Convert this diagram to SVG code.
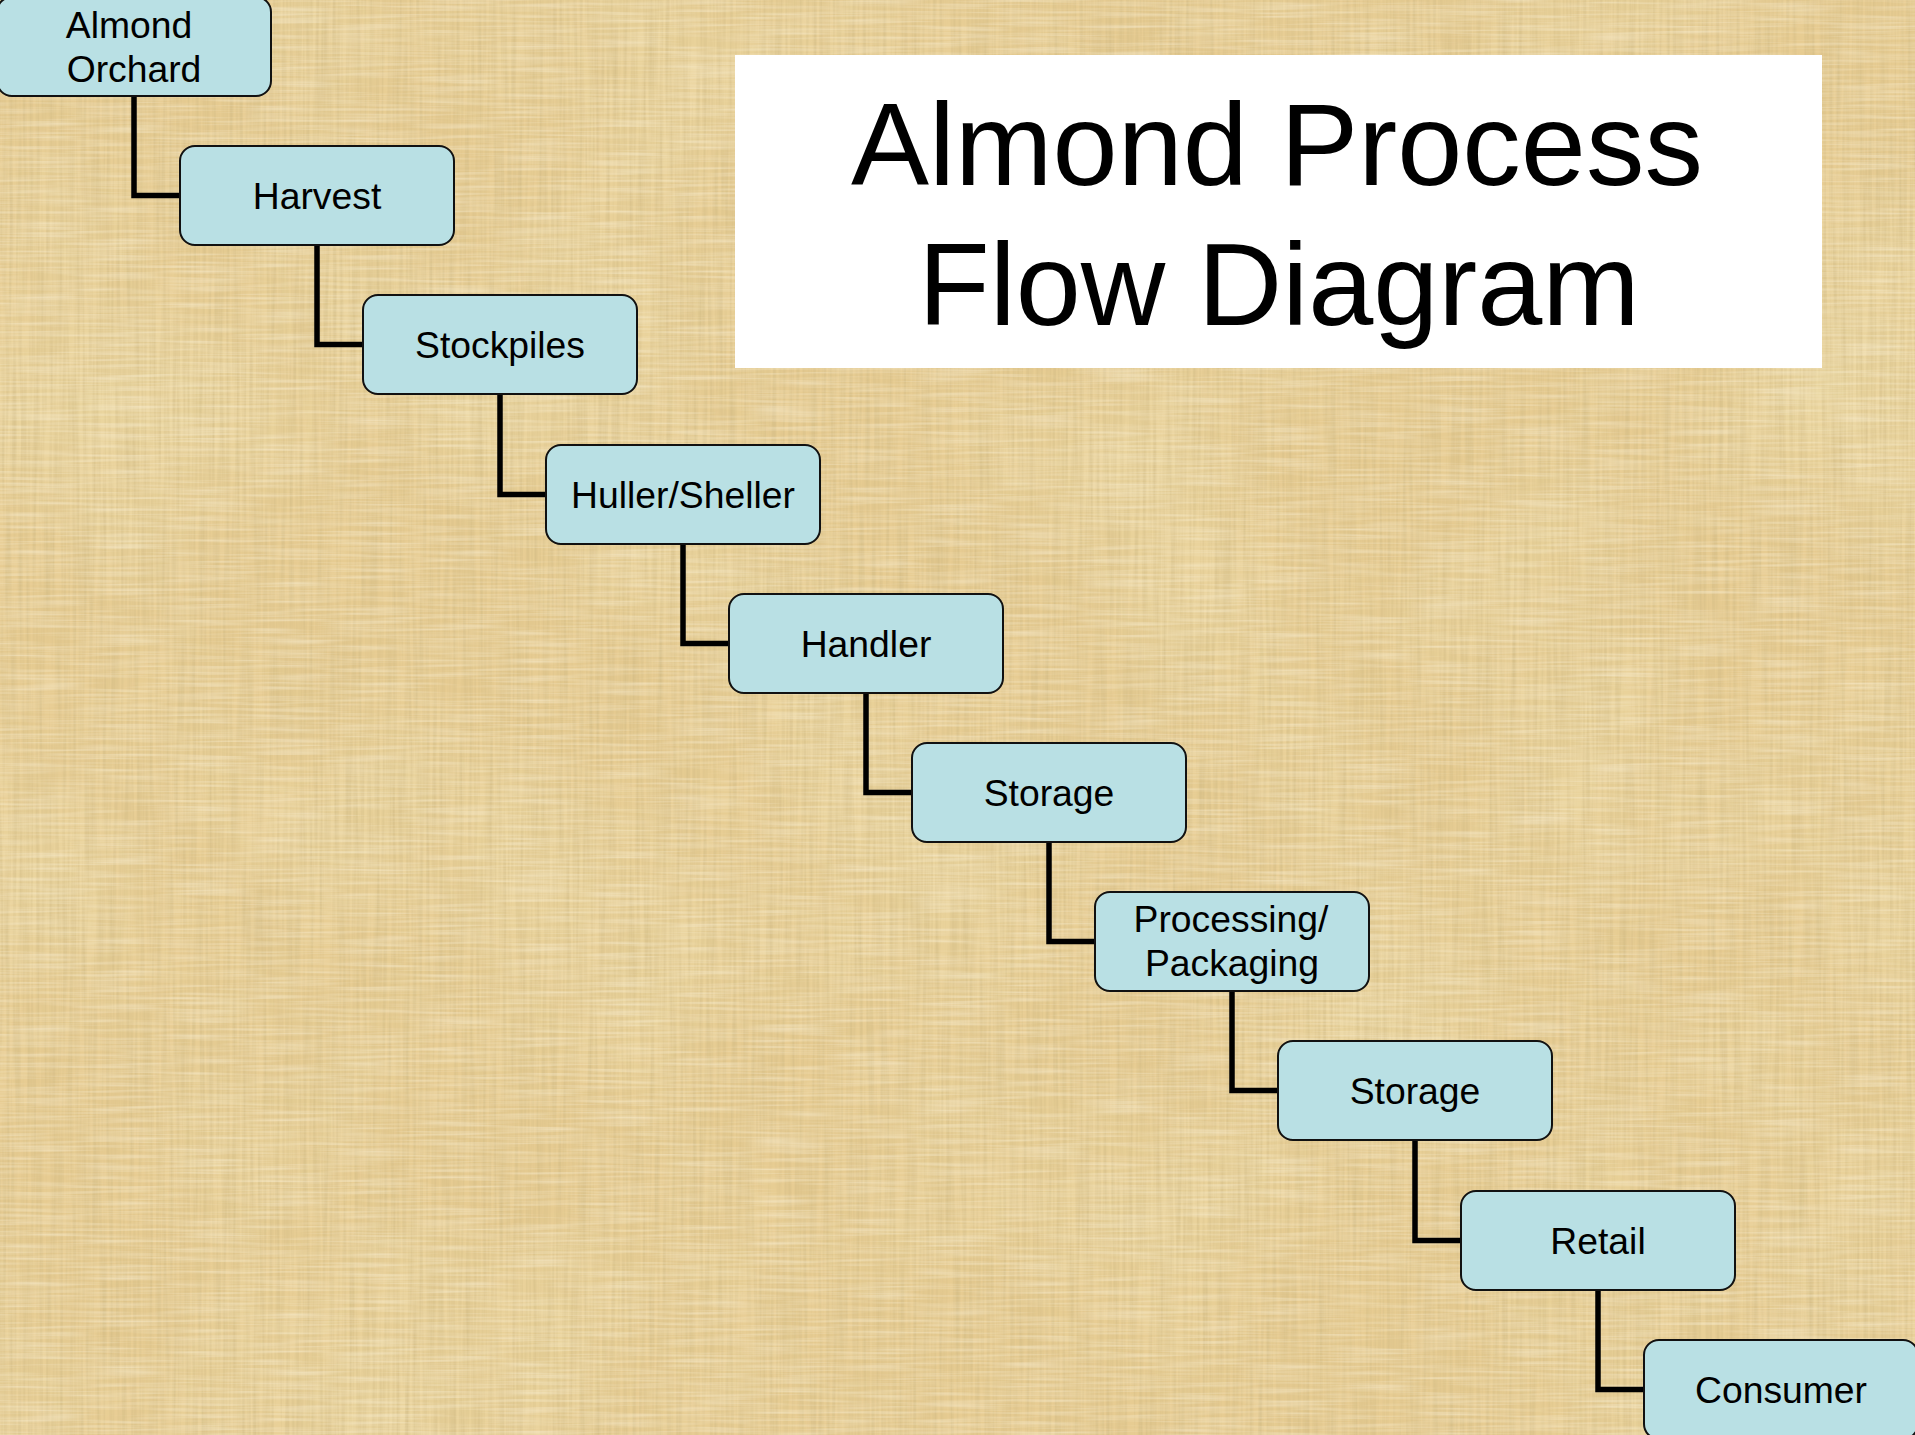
<svg xmlns="http://www.w3.org/2000/svg" width="1915" height="1435" viewBox="0 0 1915 1435">
<style>
.node rect{fill:#b9e0e4;stroke:#111;stroke-width:2}
.node text{font-family:"Liberation Sans",Arial,sans-serif;font-size:37.3px;fill:#000;text-anchor:middle}
.conn path{fill:none;stroke:#000;stroke-width:5.5;stroke-linejoin:miter}
.title{font-family:"Liberation Sans",Arial,sans-serif;font-size:117px;fill:#000;text-anchor:middle}
</style>
<defs>
<filter id="texV" x="0" y="0" width="100%" height="100%">
<feTurbulence type="fractalNoise" baseFrequency="0.3 0.008" numOctaves="2" seed="4" result="n"/>
<feColorMatrix in="n" type="matrix" values="0 0 0 0 0.62  0 0 0 0 0.48  0 0 0 0 0.22  1.1 0 0 0 -0.35"/>
</filter>
<filter id="texH" x="0" y="0" width="100%" height="100%">
<feTurbulence type="fractalNoise" baseFrequency="0.012 0.35" numOctaves="2" seed="9" result="n"/>
<feColorMatrix in="n" type="matrix" values="0 0 0 0 1  0 0 0 0 0.95  0 0 0 0 0.8  0.8 0 0 0 -0.3"/>
</filter>
<filter id="blot" x="0" y="0" width="100%" height="100%">
<feTurbulence type="fractalNoise" baseFrequency="0.004 0.004" numOctaves="2" seed="2" result="n"/>
<feColorMatrix in="n" type="matrix" values="0 0 0 0 0.85  0 0 0 0 0.72  0 0 0 0 0.4  1.2 0 0 0 -0.45"/>
</filter>
</defs>
<g id="background">
<rect x="0" y="0" width="1915" height="1435" fill="#e7cc92"/>
<rect x="0" y="0" width="1915" height="1435" filter="url(#blot)"/>
<rect x="0" y="0" width="1915" height="1435" filter="url(#texV)"/>
<rect x="0" y="0" width="1915" height="1435" filter="url(#texH)"/>
</g>
<g id="title">
<rect x="735" y="55" width="1087" height="313" fill="#ffffff"/>
<text class="title" x="1277" y="185">Almond Process</text>
<text class="title" x="1279" y="325">Flow Diagram</text>
</g>
<g id="connectors" class="conn">
<path d="M134 96 V195.5 H180"/>
<path d="M317 245 V344.5 H363"/>
<path d="M500 394 V494.5 H546"/>
<path d="M683 544 V643.5 H729"/>
<path d="M866 693 V792.5 H912"/>
<path d="M1049 842 V941.5 H1095"/>
<path d="M1232 991 V1090.5 H1278"/>
<path d="M1415 1140 V1240.5 H1461"/>
<path d="M1598 1290 V1389.5 H1644"/>
</g>
<g id="node-almond-orchard" class="node">
<rect x="-3" y="-3" width="274" height="99" rx="15"/>
<text x="129" y="38">Almond</text>
<text x="134" y="82">Orchard</text>
</g>
<g id="node-harvest" class="node">
<rect x="180" y="146" width="274" height="99" rx="15"/>
<text x="317" y="209">Harvest</text>
</g>
<g id="node-stockpiles" class="node">
<rect x="363" y="295" width="274" height="99" rx="15"/>
<text x="500" y="358">Stockpiles</text>
</g>
<g id="node-huller-sheller" class="node">
<rect x="546" y="445" width="274" height="99" rx="15"/>
<text x="683" y="508">Huller/Sheller</text>
</g>
<g id="node-handler" class="node">
<rect x="729" y="594" width="274" height="99" rx="15"/>
<text x="866" y="657">Handler</text>
</g>
<g id="node-storage-1" class="node">
<rect x="912" y="743" width="274" height="99" rx="15"/>
<text x="1049" y="806">Storage</text>
</g>
<g id="node-processing-packaging" class="node">
<rect x="1095" y="892" width="274" height="99" rx="15"/>
<text x="1231" y="932">Processing/</text>
<text x="1232" y="976">Packaging</text>
</g>
<g id="node-storage-2" class="node">
<rect x="1278" y="1041" width="274" height="99" rx="15"/>
<text x="1415" y="1104">Storage</text>
</g>
<g id="node-retail" class="node">
<rect x="1461" y="1191" width="274" height="99" rx="15"/>
<text x="1598" y="1254">Retail</text>
</g>
<g id="node-consumer" class="node">
<rect x="1644" y="1340" width="274" height="99" rx="15"/>
<text x="1781" y="1403">Consumer</text>
</g>
</svg>
